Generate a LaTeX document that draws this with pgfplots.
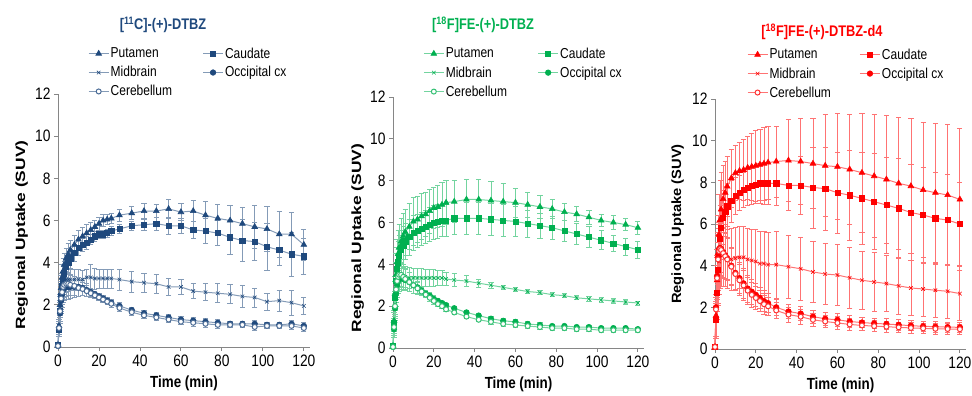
\documentclass[border=0pt]{standalone}
\usepackage{graphicx}
\usepackage{pgfplots}
\pgfplotsset{compat=1.18}
\usepackage{pgfplotstable}
\usepackage{fontspec}
\setmainfont{Liberation Sans}
\definecolor{cblue}{RGB}{31,73,125}
\definecolor{cgreen}{RGB}{0,176,80}
\definecolor{cred}{RGB}{255,0,0}
\definecolor{axgray}{RGB}{134,134,134}
\newcommand\sy[1]{\scalebox{1}[1.2]{#1}}

% t pu pue ca cae mi mie oc oce ce cee
\pgfplotstableread{
t pu pue ca cae mi mie oc oce ce cee
0 0.10 0.05 0.10 0.05 0.10 0.05 0.05 0.05 0.05 0.05
0.5 1.0 0.3 0.8 0.3 1.0 0.3 0.8 0.3 0.9 0.3
1 2.0 0.5 1.7 0.5 1.9 0.5 1.6 0.5 1.7 0.5
1.5 2.8 0.6 2.4 0.6 2.5 0.6 2.2 0.6 2.3 0.6
2 3.3 0.6 2.9 0.6 2.8 0.6 2.5 0.6 2.6 0.6
2.5 3.6 0.6 3.2 0.6 3.0 0.6 2.7 0.6 2.85 0.6
3 3.9 0.55 3.5 0.55 3.1 0.6 2.8 0.6 2.95 0.6
4 4.2 0.5 3.8 0.5 3.2 0.6 2.85 0.6 3.0 0.6
5 4.4 0.5 4.0 0.5 3.2 0.55 2.85 0.6 3.0 0.55
6 4.6 0.45 4.2 0.45 3.2 0.5 2.85 0.55 2.95 0.5
8 4.85 0.45 4.45 0.4 3.2 0.5 2.85 0.5 2.9 0.45
10 5.1 0.45 4.7 0.35 3.2 0.5 2.85 0.45 2.8 0.4
12 5.25 0.4 4.85 0.3 3.2 0.45 2.8 0.35 2.75 0.3
14 5.4 0.4 4.95 0.3 3.3 0.4 2.7 0.3 2.65 0.25
16 5.55 0.35 5.1 0.25 3.3 0.6 2.6 0.2 2.55 0.2
18 5.7 0.3 5.25 0.25 3.25 0.5 2.5 0.15 2.45 0.15
20 5.85 0.3 5.35 0.2 3.25 0.45 2.4 0.15 2.35 0.15
22 6.0 0.3 5.35 0.2 3.25 0.45 2.3 0.15 2.25 0.15
24 6.05 0.25 5.4 0.2 3.25 0.45 2.2 0.15 2.15 0.15
26 6.1 0.25 5.5 0.2 3.25 0.45 2.1 0.15 2.05 0.15
30 6.25 0.3 5.6 0.2 3.2 0.5 1.95 0.15 1.85 0.15
36 6.35 0.3 5.75 0.2 3.1 0.5 1.75 0.15 1.65 0.15
42 6.45 0.35 5.8 0.25 3.05 0.45 1.6 0.15 1.5 0.15
48 6.45 0.3 5.85 0.3 3.0 0.45 1.5 0.15 1.4 0.15
54 6.55 0.45 5.75 0.4 2.85 0.4 1.4 0.15 1.3 0.15
60 6.4 0.4 5.75 0.35 2.85 0.35 1.3 0.15 1.2 0.15
66 6.45 0.5 5.55 0.4 2.65 0.35 1.25 0.15 1.15 0.15
72 6.25 0.65 5.5 0.6 2.6 0.4 1.2 0.15 1.1 0.15
78 6.1 0.65 5.4 0.6 2.55 0.45 1.15 0.15 1.05 0.15
84 6.0 0.7 5.2 0.8 2.5 0.45 1.1 0.1 1.05 0.1
90 5.85 0.75 5.05 1.0 2.4 0.5 1.1 0.1 1.05 0.1
96 5.7 1.0 5.0 0.9 2.35 0.45 1.1 0.15 0.95 0.15
102 5.6 1.05 4.75 1.1 2.15 0.4 1.05 0.1 1.0 0.1
108 5.35 1.1 4.6 0.75 2.2 0.5 1.05 0.1 1.0 0.1
114 5.35 1.05 4.4 1.05 2.1 0.6 1.1 0.15 1.0 0.15
120 4.85 0.75 4.3 0.85 1.95 0.4 1.0 0.15 0.9 0.15
}\tA

\pgfplotstableread{
t pu pue ca cae mi mie oc oce ce cee
0 0.1 0.05 0.1 0.05 0.1 0.05 0.05 0.05 0.05 0.05
0.5 1.3 0.5 1.2 0.5 1.0 0.4 0.9 0.4 1.0 0.4
1 2.6 0.8 2.4 0.8 2.1 0.6 1.9 0.6 2.0 0.6
1.5 3.5 1.0 3.2 0.9 2.8 0.6 2.6 0.6 2.8 0.6
2 4.1 1.1 3.8 1.0 3.2 0.6 3.0 0.6 3.2 0.6
2.5 4.5 1.1 4.1 1.0 3.4 0.6 3.2 0.6 3.4 0.6
3 4.8 1.1 4.4 1.0 3.5 0.6 3.3 0.6 3.5 0.6
4 5.1 1.1 4.7 0.9 3.5 0.6 3.35 0.55 3.5 0.55
5 5.35 1.1 4.9 0.9 3.45 0.55 3.3 0.55 3.4 0.5
6 5.55 1.1 5.1 0.85 3.4 0.5 3.25 0.5 3.3 0.5
8 5.8 1.1 5.3 0.85 3.35 0.5 3.15 0.45 3.15 0.45
10 6.05 1.15 5.5 0.85 3.35 0.45 3.0 0.4 3.0 0.4
12 6.15 1.1 5.6 0.8 3.35 0.45 2.9 0.3 2.85 0.3
14 6.3 1.1 5.7 0.8 3.35 0.45 2.75 0.2 2.7 0.2
16 6.4 1.05 5.8 0.8 3.35 0.4 2.6 0.15 2.55 0.15
18 6.55 1.05 5.9 0.8 3.35 0.4 2.5 0.15 2.4 0.15
20 6.7 1.0 6.0 0.8 3.35 0.4 2.35 0.15 2.25 0.15
22 6.75 1.0 6.05 0.8 3.35 0.35 2.25 0.1 2.1 0.1
24 6.85 1.05 6.1 0.75 3.35 0.35 2.15 0.1 2.0 0.1
26 6.95 1.05 6.1 0.75 3.3 0.3 2.05 0.1 1.85 0.1
30 7.0 1.0 6.2 0.75 3.25 0.3 1.9 0.1 1.7 0.1
36 7.1 0.95 6.2 0.75 3.2 0.25 1.7 0.1 1.5 0.1
42 7.1 0.95 6.2 0.75 3.1 0.2 1.55 0.1 1.35 0.1
48 7.05 0.9 6.15 0.75 3.0 0.15 1.4 0.1 1.25 0.1
54 7.0 0.85 6.1 0.75 2.9 0.1 1.3 0.1 1.15 0.1
60 6.95 0.7 6.05 0.7 2.8 0.1 1.25 0.1 1.1 0.1
66 6.85 0.6 5.95 0.65 2.7 0.1 1.15 0.1 1.05 0.1
72 6.75 0.55 5.85 0.6 2.65 0.1 1.1 0.1 1.0 0.1
78 6.65 0.45 5.75 0.55 2.55 0.1 1.05 0.1 0.95 0.1
84 6.5 0.4 5.6 0.5 2.5 0.1 1.05 0.1 0.95 0.1
90 6.4 0.35 5.45 0.5 2.4 0.1 1.0 0.1 0.9 0.1
96 6.25 0.35 5.3 0.5 2.35 0.1 1.0 0.1 0.9 0.1
102 6.1 0.3 5.15 0.45 2.3 0.1 0.95 0.1 0.85 0.1
108 6.0 0.35 5.0 0.4 2.25 0.1 0.95 0.1 0.85 0.1
114 5.9 0.3 4.85 0.4 2.2 0.1 0.95 0.1 0.85 0.1
120 5.75 0.3 4.7 0.4 2.15 0.1 0.9 0.1 0.85 0.1
}\tB

\pgfplotstableread{
t pu pue ca cae mi mie oc oce ce cee
0 0.1 0.05 0.1 0.05 0.1 0.05 0.1 0.05 0.1 0.05
0.5 1.6 1.0 1.4 0.9 1.4 0.8 2.0 0.6 1.9 0.6
1 3.3 1.5 2.7 1.3 2.7 1.3 3.5 1.0 3.4 1.0
1.5 4.6 1.8 3.8 1.6 3.6 1.5 4.4 1.2 4.3 1.2
2 5.5 1.9 4.7 1.7 4.2 1.6 4.8 1.3 4.7 1.3
2.5 6.2 1.9 5.3 1.6 4.5 1.6 4.85 1.3 4.8 1.3
3 6.7 1.8 5.8 1.5 4.6 1.6 4.8 1.3 4.75 1.3
4 7.2 1.6 6.3 1.3 4.6 1.6 4.65 1.2 4.6 1.2
5 7.5 1.5 6.6 1.2 4.5 1.5 4.5 1.1 4.45 1.1
6 7.8 1.45 6.85 1.1 4.4 1.5 4.35 1.0 4.3 1.0
8 8.2 1.4 7.1 1.0 4.3 1.5 4.0 0.9 3.95 0.9
10 8.45 1.3 7.35 0.9 4.35 1.5 3.65 0.8 3.6 0.8
12 8.55 1.35 7.5 0.85 4.4 1.5 3.4 0.75 3.3 0.75
14 8.6 1.45 7.65 0.85 4.4 1.5 3.15 0.7 3.05 0.7
16 8.7 1.5 7.75 0.85 4.3 1.5 2.9 0.65 2.8 0.65
18 8.75 1.6 7.85 0.9 4.25 1.5 2.75 0.6 2.6 0.6
20 8.8 1.7 7.9 0.9 4.2 1.55 2.6 0.55 2.45 0.55
22 8.85 1.7 7.95 0.95 4.1 1.55 2.45 0.5 2.3 0.5
24 8.9 1.75 7.95 1.0 4.1 1.55 2.3 0.5 2.15 0.5
26 8.95 1.75 7.95 1.0 4.05 1.55 2.2 0.45 2.05 0.45
30 9.0 1.7 7.95 1.05 4.05 1.6 2.0 0.4 1.85 0.4
36 9.05 1.95 7.85 1.2 3.95 1.5 1.8 0.35 1.65 0.35
42 9.0 2.05 7.85 1.4 3.85 1.5 1.7 0.35 1.55 0.35
48 8.9 2.15 7.75 1.95 3.7 1.45 1.55 0.3 1.4 0.3
54 8.8 2.45 7.7 2.0 3.6 1.45 1.45 0.3 1.32 0.3
60 8.75 2.55 7.5 1.95 3.55 1.45 1.4 0.3 1.25 0.3
66 8.62 2.65 7.38 2.15 3.42 1.45 1.32 0.3 1.18 0.3
72 8.46 2.85 7.23 2.2 3.3 1.4 1.27 0.25 1.13 0.25
78 8.3 2.95 7.07 2.3 3.22 1.4 1.23 0.25 1.1 0.25
84 8.14 3.05 6.91 2.3 3.14 1.35 1.2 0.25 1.07 0.25
90 7.95 3.15 6.75 2.4 3.03 1.35 1.16 0.25 1.04 0.25
96 7.82 3.25 6.55 2.3 2.93 1.3 1.12 0.25 1.01 0.25
102 7.63 3.25 6.43 2.3 2.88 1.3 1.09 0.25 0.99 0.25
108 7.5 3.35 6.27 2.2 2.82 1.3 1.07 0.25 0.97 0.25
114 7.39 3.4 6.19 2.2 2.77 1.3 1.05 0.25 0.96 0.25
120 7.18 3.4 6.0 2.0 2.66 1.3 1.04 0.25 0.95 0.25
}\tC

\pgfplotsset{
  panel/.style={
    scale only axis, xmin=0, xmax=123, ymin=0, ymax=12, clip=false,
    axis x line=bottom, axis y line=left,
    axis line style={-, draw=axgray, line width=0.9pt},
    xtick={0,20,...,120}, ytick={0,2,...,12},
    tick align=outside, major tick length=4pt,
    every tick/.style={axgray, line width=0.9pt},
    tick label style={font=\fontsize{13.8}{14}\selectfont, yscale=1.2},
    /pgf/number format/assume math mode=true,
    xlabel={\sy{Time (min)}},
    xlabel style={font=\bfseries\fontsize{13.4}{14}\selectfont, at={(axis description cs:0.5,0)}, anchor=center, yshift=-36pt},
    ylabel style={font=\bfseries\fontsize{13.4}{14}\selectfont, anchor=center},
    title style={font=\bfseries\fontsize{12.8}{13}\selectfont, anchor=center},
    legend columns=2,
    legend style={draw=none, fill=none, inner sep=0pt, anchor=north west,
      font=\fontsize{12}{12}\selectfont, nodes={inner sep=1.5pt}, row sep=4pt},
    legend cell align=left,
    legend image code/.code={\draw[mark repeat=2,mark phase=2] plot coordinates {(0pt,0pt) (10pt,0pt) (20pt,0pt)};},
  },
  ln/.style={color=#1!55!white, line width=1pt, mark options={solid, fill=#1, draw=#1, line width=0.6pt}},
  eb/.style={error bars/.cd, y dir=both, y explicit,
    error bar style={color=#1!55!white, line width=0.8pt},
    error mark=-,
    error mark options={rotate=90, color=#1!55!white, mark size=2.6pt, line width=0.8pt}},
}

\begin{document}
\begin{tikzpicture}
\path[use as bounding box] (0pt,0pt) rectangle (972pt,396pt);

% Panel 1
\begin{axis}[panel, width=252pt, height=253pt, at={(58pt,49pt)}, anchor=south west,
  ylabel={\scalebox{1.3}[1]{Regional Uptake (SUV)}},
  ylabel style={at={(axis description cs:-0.144,0.443)}},
  title={\sy{[\textsuperscript{11}C]-(+)-DTBZ}}, title style={text=cblue, at={(axis description cs:0.417,1.249)}},
  legend style={at={(axis description cs:0.119,1.19)}, /tikz/every even column/.append style={column sep=29pt}}]
\addplot[ln=cblue, mark=triangle*, mark size=3.3pt, eb=cblue] table[x=t,y=pu,y error=pue]{\tA};
\addlegendentry{\sy{Putamen}}
\addplot[ln=cblue, mark=square*, mark size=2.6pt, eb=cblue] table[x=t,y=ca,y error=cae]{\tA};
\addlegendentry{\sy{Caudate}}
\addplot[ln=cblue, mark=x, mark size=2.5pt, eb=cblue] table[x=t,y=mi,y error=mie]{\tA};
\addlegendentry{\sy{Midbrain}}
\addplot[ln=cblue, mark=*, mark size=2.8pt, eb=cblue] table[x=t,y=oc,y error=oce]{\tA};
\addlegendentry{\sy{Occipital cx}}
\addplot[ln=cblue, mark=*, mark size=2.5pt, mark options={fill=white, draw=cblue!80!white}, eb=cblue] table[x=t,y=ce,y error=cee]{\tA};
\addlegendentry{\sy{Cerebellum}}
\end{axis}

% Panel 2
\begin{axis}[panel, width=251pt, height=251pt, at={(393pt,48pt)}, anchor=south west,
  ylabel={\scalebox{1.3}[1]{Regional Uptake (SUV)}},
  ylabel style={at={(axis description cs:-0.141,0.438)}},
  title={\sy{[\textsuperscript{18}F]FE-(+)-DTBZ}}, title style={text=cgreen, at={(axis description cs:0.359,1.263)}},
  legend style={at={(axis description cs:0.12,1.203)}, /tikz/every even column/.append style={column sep=29pt}}]
\addplot[ln=cgreen, mark=triangle*, mark size=3.3pt, eb=cgreen] table[x=t,y=pu,y error=pue]{\tB};
\addlegendentry{\sy{Putamen}}
\addplot[ln=cgreen, mark=square*, mark size=2.6pt, eb=cgreen] table[x=t,y=ca,y error=cae]{\tB};
\addlegendentry{\sy{Caudate}}
\addplot[ln=cgreen, mark=x, mark size=2.5pt, eb=cgreen] table[x=t,y=mi,y error=mie]{\tB};
\addlegendentry{\sy{Midbrain}}
\addplot[ln=cgreen, mark=*, mark size=2.8pt, eb=cgreen] table[x=t,y=oc,y error=oce]{\tB};
\addlegendentry{\sy{Occipital cx}}
\addplot[ln=cgreen, mark=*, mark size=2.5pt, mark options={fill=white, draw=cgreen!80!white}, eb=cgreen] table[x=t,y=ce,y error=cee]{\tB};
\addlegendentry{\sy{Cerebellum}}
\end{axis}

% Panel 3
\begin{axis}[panel, width=251pt, height=250pt, at={(715pt,47pt)}, anchor=south west,
  ylabel={\scalebox{1.1}[1]{Regional Uptake (SUV)}},
  ylabel style={at={(axis description cs:-0.149,0.5)}},
  title={\sy{[\textsuperscript{18}F]FE-(+)-DTBZ-d4}}, title style={text=cred, at={(axis description cs:0.426,1.244)}},
  legend style={at={(axis description cs:0.127,1.208)}, /tikz/every even column/.append style={column sep=27pt}}]
\addplot[ln=cred, mark=triangle*, mark size=3.3pt, eb=cred] table[x=t,y=pu,y error=pue]{\tC};
\addlegendentry{\sy{Putamen}}
\addplot[ln=cred, mark=square*, mark size=2.6pt, eb=cred] table[x=t,y=ca,y error=cae]{\tC};
\addlegendentry{\sy{Caudate}}
\addplot[ln=cred, mark=x, mark size=2.5pt, eb=cred] table[x=t,y=mi,y error=mie]{\tC};
\addlegendentry{\sy{Midbrain}}
\addplot[ln=cred, mark=*, mark size=2.8pt, eb=cred] table[x=t,y=oc,y error=oce]{\tC};
\addlegendentry{\sy{Occipital cx}}
\addplot[ln=cred, mark=*, mark size=2.5pt, mark options={fill=white, draw=cred!80!white}, eb=cred] table[x=t,y=ce,y error=cee]{\tC};
\addlegendentry{\sy{Cerebellum}}
\end{axis}
\end{tikzpicture}
\end{document}
